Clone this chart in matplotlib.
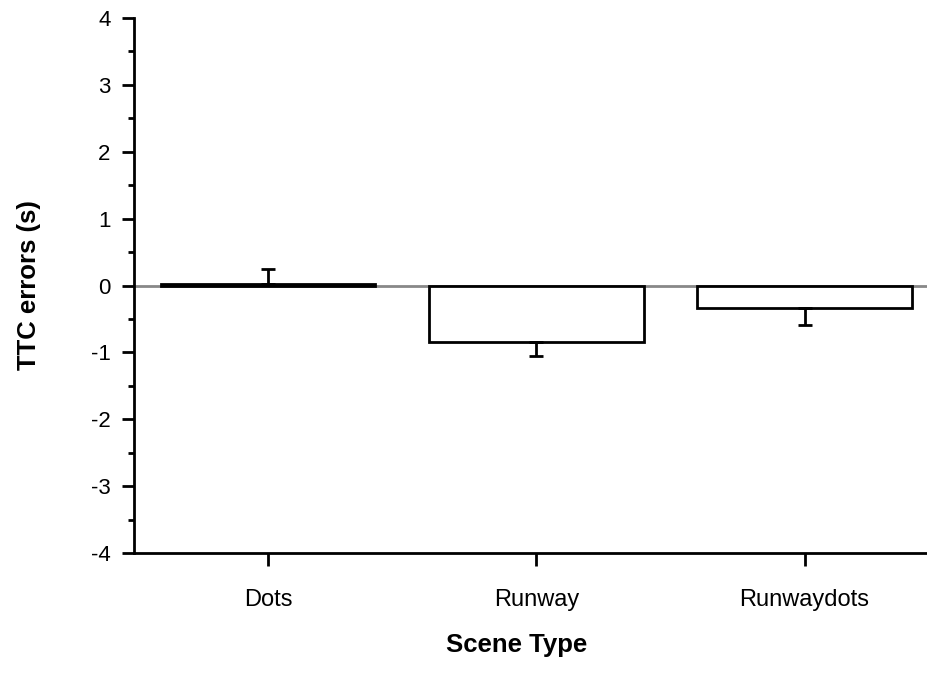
import matplotlib.pyplot as plt
from matplotlib.ticker import MultipleLocator

# TTC errors by scene type
scenes = ["Dots", "Runway", "Runwaydots"]
means = [0.02, -0.84, -0.33]
errs = [0.23, 0.22, 0.26]

plt.rcParams['font.family'] = ['Liberation Sans', 'DejaVu Sans']
plt.rcParams['axes.unicode_minus'] = False

fig = plt.figure(figsize=(9.28, 6.84), dpi=100)
ax = fig.add_axes([0.1444, 0.1915, 0.8556, 0.7822])

x = list(range(len(scenes)))
ax.axhline(0, color='#888888', linewidth=2, zorder=0)
ax.bar(x, means, width=0.8, color='white', edgecolor='black', linewidth=2, zorder=2)

# one-sided error bars pointing away from zero
lower = [e if m < 0 else 0 for m, e in zip(means, errs)]
upper = [e if m >= 0 else 0 for m, e in zip(means, errs)]
ax.errorbar(x, means, yerr=[lower, upper], fmt='none', ecolor='black',
            elinewidth=2, capsize=5, capthick=2, zorder=3)

ax.set_xlim(-0.5, 2.46)
ax.set_ylim(-4, 4)
ax.set_xticks(x)
ax.set_xticklabels(scenes)
ax.yaxis.set_major_locator(MultipleLocator(1))
ax.yaxis.set_minor_locator(MultipleLocator(0.5))

for s in ['top', 'right']:
    ax.spines[s].set_visible(False)
for s in ['left', 'bottom']:
    ax.spines[s].set_linewidth(2)

ax.tick_params(axis='both', which='major', direction='out', length=9, width=2)
ax.tick_params(axis='y', which='minor', direction='out', length=4.5, width=2)
ax.tick_params(axis='y', which='major', pad=8, labelsize=16)
ax.tick_params(axis='x', which='major', pad=17, labelsize=17)

ax.set_xlabel("Scene Type", fontsize=18.5, fontweight='bold', va='center')
ax.set_ylabel("TTC errors (s)", fontsize=18.5, fontweight='bold')
ax.xaxis.set_label_coords(0.482, -0.172)
ax.yaxis.set_label_coords(-0.117, 0.5)

fig.savefig("out.png", dpi=100)
plt.close()
